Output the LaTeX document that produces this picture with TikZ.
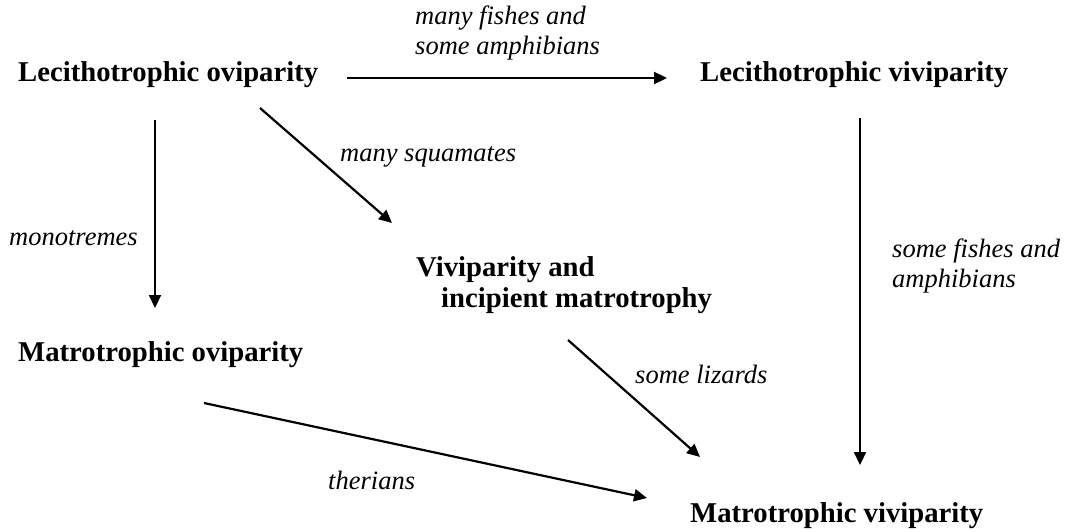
\documentclass[tikz,border=0pt]{standalone}
\usepackage{fontspec}
\setmainfont{Liberation Serif}
\usetikzlibrary{arrows.meta,calc}
\tikzset{
  state/.style={anchor=base west,inner sep=0pt,align=left,font=\fontsize{28.7}{31}\selectfont\bfseries},
  lab/.style={anchor=base west,inner sep=0pt,align=left,font=\fontsize{26.5}{30}\selectfont\itshape},
  arr/.style={line width=2.2pt,-{Triangle[length=13pt,width=12pt]}}
}
\begin{document}
\begin{tikzpicture}[x=1pt,y=-1pt]
\useasboundingbox (0,0) rectangle (1074,532);
\node[state] (LO) at (18,82) {Lecithotrophic oviparity};
\node[state] (LV) at (700,82) {Lecithotrophic viviparity};
\node[state] (MO) at (18,361) {Matrotrophic oviparity};
\node[state] (VIM) at (416,307) {Viviparity and\\\hspace*{25pt}incipient matrotrophy};
\node[state] (MV) at (690,522) {Matrotrophic viviparity};

\node[lab] (l1) at (415,55) {many fishes and\\some amphibians};
\node[lab] (l2) at (9,245) {monotremes};
\node[lab] (l3) at (340,162) {many squamates};
\node[lab] (l4) at (635,383) {some lizards};
\node[lab] (l5) at (328,489) {therians};
\node[lab] (l6) at (892,287) {some fishes and\\amphibians};

\draw[arr] ($(LO.base west)+(329,-4)$) -- ($(LV.base west)+(-33,-4)$);
\draw[arr] ($(LO.base west)+(137,38)$) -- ($(MO.base west)+(137,-53)$);
\draw[arr] ($(LO.base west)+(242,26)$) -- ($(VIM.base west)+(-24,-84)$);
\draw[arr] ($(LV.base west)+(160,36)$) -- ($(MV.base west)+(170,-57)$);
\draw[arr] ($(VIM.base west)+(152,33)$) -- ($(MV.base west)+(10,-65)$);
\draw[arr] ($(MO.base west)+(186,42)$) -- ($(MV.base west)+(-43,-24)$);
\end{tikzpicture}
\end{document}
